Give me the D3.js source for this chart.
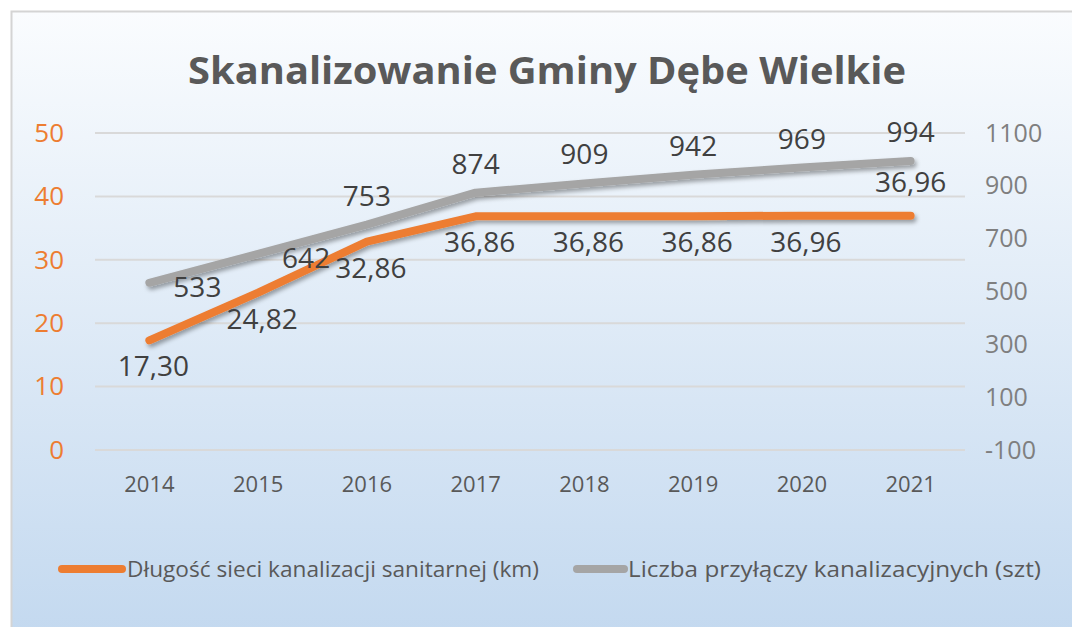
<!DOCTYPE html>
<html><head><meta charset="utf-8">
<script src="https://cdn.jsdelivr.net/npm/d3@7/dist/d3.min.js"></script>
<style>html,body{margin:0;padding:0;background:#fff;}svg{display:block;}</style>
</head><body>
<svg id="c" width="1072" height="627"></svg>
<script>
const years = ["2014","2015","2016","2017","2018","2019","2020","2021"];
const dlugosc = [17.30, 24.82, 32.86, 36.86, 36.86, 36.86, 36.96, 36.96];
const liczba = [533, 642, 753, 874, 909, 942, 969, 994];
const leftTicks = [0, 10, 20, 30, 40, 50];
const rightTicks = [-100, 100, 300, 500, 700, 900, 1100];
const seriesNames = ["Długość sieci kanalizacji sanitarnej (km)", "Liczba przyłączy kanalizacyjnych (szt)"];
const title = "Skanalizowanie Gminy Dębe Wielkie";

const orange = "#ED7D31", gray = "#A5A5A5";
const font = "'Open Sans', 'Noto Sans', sans-serif";
const svg = d3.select("#c");
const defs = svg.append("defs");
const grad = defs.append("linearGradient").attr("id","bg").attr("x1",0).attr("y1",0).attr("x2",0).attr("y2",1);
grad.append("stop").attr("offset","0%").attr("stop-color","#fafcfe");
grad.append("stop").attr("offset","100%").attr("stop-color","#c2d8ef");
const f = defs.append("filter").attr("id","sh").attr("x","-10%").attr("y","-30%").attr("width","130%").attr("height","180%");
f.append("feDropShadow").attr("dx",2).attr("dy",3).attr("stdDeviation",2).attr("flood-color","#000").attr("flood-opacity",0.35);

svg.append("rect").attr("x",11.5).attr("y",11.5).attr("width",1080).attr("height",640)
  .attr("fill","url(#bg)").attr("stroke","#d4d4d4").attr("stroke-width",2);

const L = 95, R = 965, T = 133, B = 450;
const x = d3.scaleBand().domain(years).range([L, R]);
const yL = d3.scaleLinear().domain([0, 50]).range([B, T]);
const yR = d3.scaleLinear().domain([-100, 1100]).range([B, T]);

svg.append("text").attr("x", 547).attr("y", 84).attr("text-anchor","middle")
  .attr("font-family", font).attr("font-weight","bold").attr("font-size",37)
  .attr("fill","#595959").attr("textLength",718).attr("lengthAdjust","spacingAndGlyphs").text(title);

// gridlines
svg.append("g").selectAll("line").data(leftTicks).join("line")
  .attr("x1",L).attr("x2",R).attr("y1",d=>yL(d)).attr("y2",d=>yL(d))
  .attr("stroke","#d9d9d9").attr("stroke-width",2);

// left axis
const axL = svg.append("g").attr("transform",`translate(${L},0)`)
  .call(d3.axisLeft(yL).tickValues(leftTicks).tickSize(0).tickPadding(31));
axL.select(".domain").remove();
axL.selectAll("text").attr("font-family",font).attr("font-size",26).attr("fill",orange);

// right axis
const axR = svg.append("g").attr("transform",`translate(${R},0)`)
  .call(d3.axisRight(yR).tickValues(rightTicks).tickSize(0).tickPadding(20).tickFormat(d=>String(d)));
axR.select(".domain").remove();
axR.selectAll("text").attr("font-family",font).attr("font-size",25).attr("fill","#7f7f7f");

// bottom axis
const axB = svg.append("g").attr("transform",`translate(0,${B})`)
  .call(d3.axisBottom(x).tickSize(0).tickPadding(26));
axB.select(".domain").remove();
axB.selectAll("text").attr("font-family",font).attr("font-size",22).attr("fill","#595959");

const cx = d => x(d) + x.bandwidth()/2;
const lineG = d3.line().x((d,i)=>cx(years[i])).y(d=>yR(d));
const lineO = d3.line().x((d,i)=>cx(years[i])).y(d=>yL(d));

svg.append("path").datum(liczba).attr("d",lineG).attr("fill","none").attr("stroke",gray)
  .attr("stroke-width",8).attr("stroke-linecap","round").attr("stroke-linejoin","round").attr("filter","url(#sh)");
svg.append("path").datum(dlugosc).attr("d",lineO).attr("fill","none").attr("stroke",orange)
  .attr("stroke-width",8).attr("stroke-linecap","round").attr("stroke-linejoin","round").attr("filter","url(#sh)");

const fmt = v => v.toFixed(2).replace(".", ",");
// labels
const grayPos = ["right","right","above","above","above","above","above","above"];
const orPos = ["below","below","below","below","below","below","below","above"];
function place(pos, px, py){
  if(pos==="above") return [px, py-19];
  if(pos==="below") return [px+4, py+36];
  return [px+48, py+14];
}
svg.append("g").selectAll("text").data(liczba).join("text")
  .each(function(d,i){
    const [tx,ty] = place(grayPos[i], cx(years[i]), yR(d));
    d3.select(this).attr("x",tx).attr("y",ty);
  })
  .attr("text-anchor","middle").attr("font-family",font).attr("font-size",28).attr("fill","#404040")
  .text(d=>d);
svg.append("g").selectAll("text").data(dlugosc).join("text")
  .each(function(d,i){
    const [tx,ty] = place(orPos[i], cx(years[i]), yL(d));
    d3.select(this).attr("x",tx).attr("y",orPos[i]==="above"?ty-5:ty);
  })
  .attr("text-anchor","middle").attr("font-family",font).attr("font-size",28).attr("fill","#404040")
  .text(d=>fmt(d));

// legend
const leg = [{n:seriesNames[0], c:orange, x0:62, x1:122, tx:127, tl:412},
             {n:seriesNames[1], c:gray, x0:577, x1:624, tx:628, tl:413}];
const lg = svg.append("g");
leg.forEach(l=>{
  lg.append("line").attr("x1",l.x0).attr("x2",l.x1).attr("y1",569).attr("y2",569)
    .attr("stroke",l.c).attr("stroke-width",8).attr("stroke-linecap","round");
  lg.append("text").attr("x",l.tx).attr("y",577).attr("font-family",font).attr("font-size",22)
    .attr("fill","#595959").attr("textLength",l.tl).attr("lengthAdjust","spacingAndGlyphs").text(l.n);
});
</script>
</body></html>
